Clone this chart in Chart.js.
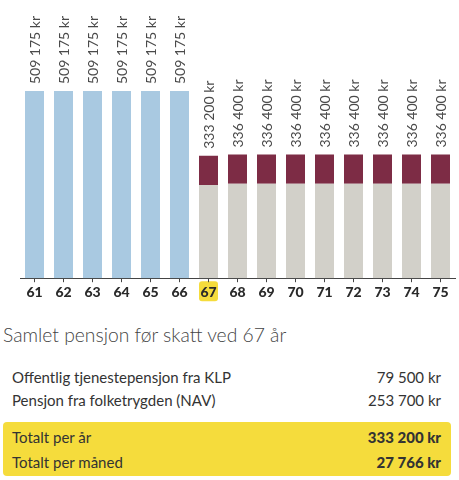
<!DOCTYPE html>
<html>
<head>
<meta charset="utf-8">
<script src="https://cdn.jsdelivr.net/npm/chart.js@4.4.1/dist/chart.umd.min.js"></script>
<style>
  html, body { margin: 0; padding: 0; background: #fff; }
  body { width: 459px; height: 480px; position: relative; overflow: hidden; font-family: Lato, "Open Sans", sans-serif; color: #333; }
  #wrap { position: absolute; left: 0; top: 0; width: 459px; height: 303px; }
  .title { position: absolute; left: 3px; top: 323px; font-size: 19.3px; font-weight: 300; color: #444; white-space: nowrap; }
  .row { position: absolute; left: 12px; width: 429px; height: 22px; font-size: 15px; line-height: 22px; color: #333; }
  .row .v { position: absolute; right: 0; top: 0; }
  .box { position: absolute; left: 3px; top: 422px; width: 448px; height: 54px; background: #f5dc3c; border-radius: 4px; }
  .b { font-weight: 900; }
</style>
</head>
<body>
<div id="wrap"><canvas id="c"></canvas></div>
<div class="title" id="title"></div>
<div class="box"></div>
<div id="rows"></div>
<script>
// ---- Data ----
const ages = ["61","62","63","64","65","66","67","68","69","70","71","72","73","74","75"];
const earlyPension = [509175,509175,509175,509175,509175,509175,null,null,null,null,null,null,null,null,null];
const folketrygd   = [null,null,null,null,null,null,253700,256900,256900,256900,256900,256900,256900,256900,256900];
const klpPension   = [null,null,null,null,null,null,79500,79500,79500,79500,79500,79500,79500,79500,79500];
const highlightAge = "67";

const summaryTitle = "Samlet pensjon før skatt ved 67 år";
const summaryLabels = ["Offentlig tjenestepensjon fra KLP","Pensjon fra folketrygden (NAV)","Totalt per år","Totalt per måned"];
const summaryValues = ["79 500 kr","253 700 kr","333 200 kr","27 766 kr"];

// ---- Summary HTML ----
document.getElementById('title').textContent = summaryTitle;
const rowTops = [366, 389, 426, 451];
const rowsEl = document.getElementById('rows');
summaryLabels.forEach((lab, i) => {
  const r = document.createElement('div');
  r.className = 'row';
  r.style.top = rowTops[i] + 'px';
  const l = document.createElement('span'); l.textContent = lab;
  const v = document.createElement('span'); v.className = 'v' + (i >= 2 ? ' b' : ''); v.textContent = summaryValues[i];
  r.appendChild(l); r.appendChild(v);
  rowsEl.appendChild(r);
});

function fmt(n) {
  return String(n).replace(/\B(?=(\d{3})+(?!\d))/g, ' ') + ' kr';
}

const labelPlugin = {
  id: 'totals',
  beforeDraw(chart) {
    const xs = chart.scales.x;
    const idx = ages.indexOf(highlightAge);
    const cx = xs.getPixelForValue(idx);
    const ctx = chart.ctx;
    ctx.save();
    ctx.fillStyle = '#f5dc3c';
    const w = 19, h = 20, y0 = chart.chartArea.bottom + 3;
    ctx.beginPath();
    ctx.roundRect(cx - w / 2, y0, w, h, 3);
    ctx.fill();
    ctx.restore();
  },
  afterDatasetsDraw(chart) {
    const ctx = chart.ctx;
    ctx.save();
    ctx.font = '14px Lato';
    ctx.fillStyle = '#4a4a4a';
    ctx.textAlign = 'left';
    ctx.textBaseline = 'middle';
    ages.forEach((a, i) => {
      let topY = null, x = null, total = 0;
      chart.data.datasets.forEach((ds, di) => {
        const v = ds.data[i];
        if (v != null) {
          total += v;
          const el = chart.getDatasetMeta(di).data[i];
          if (topY === null || el.y < topY) { topY = el.y; x = el.x; }
        }
      });
      if (topY === null) return;
      ctx.save();
      ctx.translate(x + 1, topY - 7);
      ctx.rotate(-Math.PI / 2);
      ctx.fillText(fmt(total), 0, 0);
      ctx.restore();
    });
    ctx.restore();
  }
};

new Chart(document.getElementById('c'), {
  type: 'bar',
  data: {
    labels: ages,
    datasets: [
      { label: 'Pensjon før 67', data: earlyPension, backgroundColor: '#a9c9e1', stack: 's' },
      { label: 'Folketrygden', data: folketrygd, backgroundColor: '#d2d0c9', stack: 's' },
      { label: 'KLP', data: klpPension, backgroundColor: '#7d2c45', stack: 's' }
    ]
  },
  options: {
    responsive: true,
    maintainAspectRatio: false,
    animation: false,
    layout: { padding: { left: 20, right: 4, top: 0, bottom: 0 } },
    plugins: { legend: { display: false }, tooltip: { enabled: false } },
    datasets: { bar: { barPercentage: 0.655, categoryPercentage: 1.0 } },
    scales: {
      x: {
        stacked: true,
        grid: { display: true, drawOnChartArea: false, offset: false, tickLength: 4, color: '#444', lineWidth: 1 },
        border: { display: true, color: '#444', width: 1 },
        ticks: { color: '#2a2a2a', font: { family: 'Lato', size: 14, weight: '900' }, padding: 2, maxRotation: 0, autoSkip: false }
      },
      y: {
        stacked: true,
        display: false,
        min: 0,
        max: 757000
      }
    }
  },
  plugins: [labelPlugin]
});
</script>
</body>
</html>
